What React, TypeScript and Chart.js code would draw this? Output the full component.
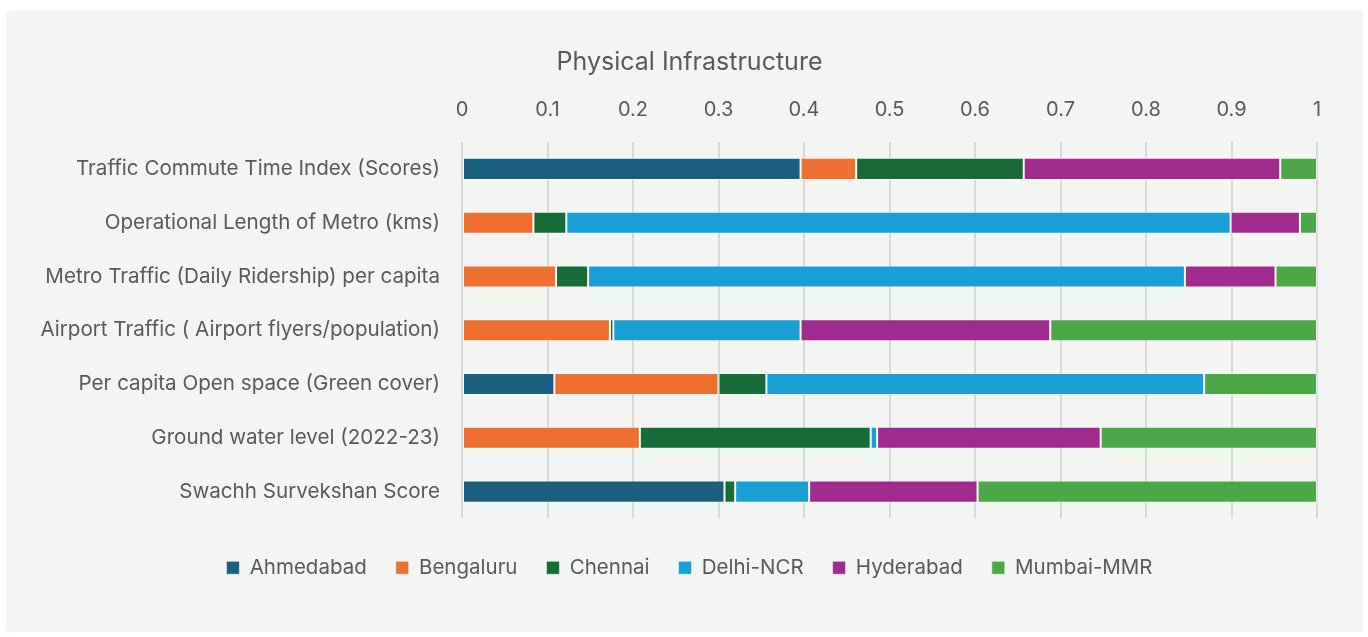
import React, { useEffect, useRef } from "react";
import { Chart, registerables } from "chart.js";

Chart.register(...registerables);

const categories = [
  "Traffic Commute Time Index (Scores)",
  "Operational Length of Metro (kms)",
  "Metro Traffic (Daily Ridership) per capita",
  "Airport Traffic ( Airport flyers/population)",
  "Per capita Open space (Green cover)",
  "Ground water level (2022-23)",
  "Swachh Survekshan Score",
];

const ahmedabad = [0.396, 0, 0, 0, 0.108, 0, 0.307];
const bengaluru = [0.065, 0.0835, 0.11, 0.173, 0.192, 0.208, 0];
const chennai = [0.196, 0.0385, 0.0375, 0.004, 0.056, 0.27, 0.0125];
const delhiNcr = [0, 0.777, 0.698, 0.219, 0.512, 0.0075, 0.0865];
const hyderabad = [0.3, 0.081, 0.106, 0.292, 0, 0.2615, 0.197];
const mumbaiMmr = [0.043, 0.02, 0.0485, 0.312, 0.132, 0.253, 0.397];

const seriesNames = ["Ahmedabad", "Bengaluru", "Chennai", "Delhi-NCR", "Hyderabad", "Mumbai-MMR"];
const seriesColors = ["#1a5f80", "#ed7030", "#176b37", "#1a9ed6", "#a02b8f", "#4ca846"];
const seriesValues = [ahmedabad, bengaluru, chennai, delhiNcr, hyderabad, mumbaiMmr];

const FONT = "Inter, 'Liberation Sans', Arial, sans-serif";

export default function App() {
  const ref = useRef<HTMLCanvasElement | null>(null);

  useEffect(() => {
    if (!ref.current) return;
    const chart = new Chart(ref.current, {
      type: "bar",
      data: {
        labels: categories,
        datasets: seriesNames.map((name, i) => ({
          label: name,
          data: seriesValues[i],
          backgroundColor: seriesColors[i],
          borderColor: "rgba(255,255,255,0.55)",
          borderWidth: 1,
          borderSkipped: false,
          barPercentage: 0.82,
          categoryPercentage: 0.5,
        })),
      },
      options: {
        indexAxis: "y",
        animation: false,
        responsive: true,
        maintainAspectRatio: false,
        layout: { padding: { left: 20, right: 10, top: 36, bottom: 44 } },
        scales: {
          x: {
            position: "top",
            stacked: true,
            min: 0,
            max: 1,
            ticks: {
              stepSize: 0.1,
              color: "#595959",
              font: { family: FONT, size: 20 },
              padding: 20,
              callback: (v: any) => String(Math.round(Number(v) * 10) / 10),
            },
            grid: { color: "#d9d9d9", lineWidth: 2, drawTicks: false },
            border: { display: false },
          },
          xGap: {
            type: "linear",
            position: "bottom",
            display: true,
            ticks: { display: false },
            grid: { display: false, drawTicks: false },
            border: { display: false },
            afterFit: (s: any) => {
              s.height = 10;
            },
          },
          y: {
            stacked: true,
            ticks: {
              color: "#595959",
              font: { family: FONT, size: 20.6 },
              padding: 22,
            },
            grid: { display: false, drawTicks: false },
            border: { display: false },
            afterFit: (s: any) => {
              s.width = 436;
            },
          },
          yGap: {
            type: "linear",
            position: "right",
            display: true,
            ticks: { display: false },
            grid: { display: false, drawTicks: false },
            border: { display: false },
            afterFit: (s: any) => {
              s.width = 36;
            },
          },
        },
        plugins: {
          title: {
            display: true,
            text: "Physical Infrastructure",
            color: "#595959",
            font: { family: FONT, size: 25, weight: "normal" },
            padding: { top: 0, bottom: 1 },
          },
          legend: {
            position: "bottom",
            labels: {
              color: "#595959",
              font: { family: FONT, size: 20.5 },
              boxWidth: 13,
              boxHeight: 13,
              padding: 29,
            },
          },
          tooltip: { enabled: false },
        },
      },
    });
    return () => chart.destroy();
  }, []);

  return (
    <div style={{ position: "fixed", left: 0, top: 0, width: 1368, height: 637, background: "#ffffff" }}>
      <div
        style={{
          position: "absolute",
          left: 6,
          top: 11,
          width: 1357,
          height: 621,
          background: "#f3f5f2",
        }}
      >
        <canvas ref={ref} />
      </div>
    </div>
  );
}
